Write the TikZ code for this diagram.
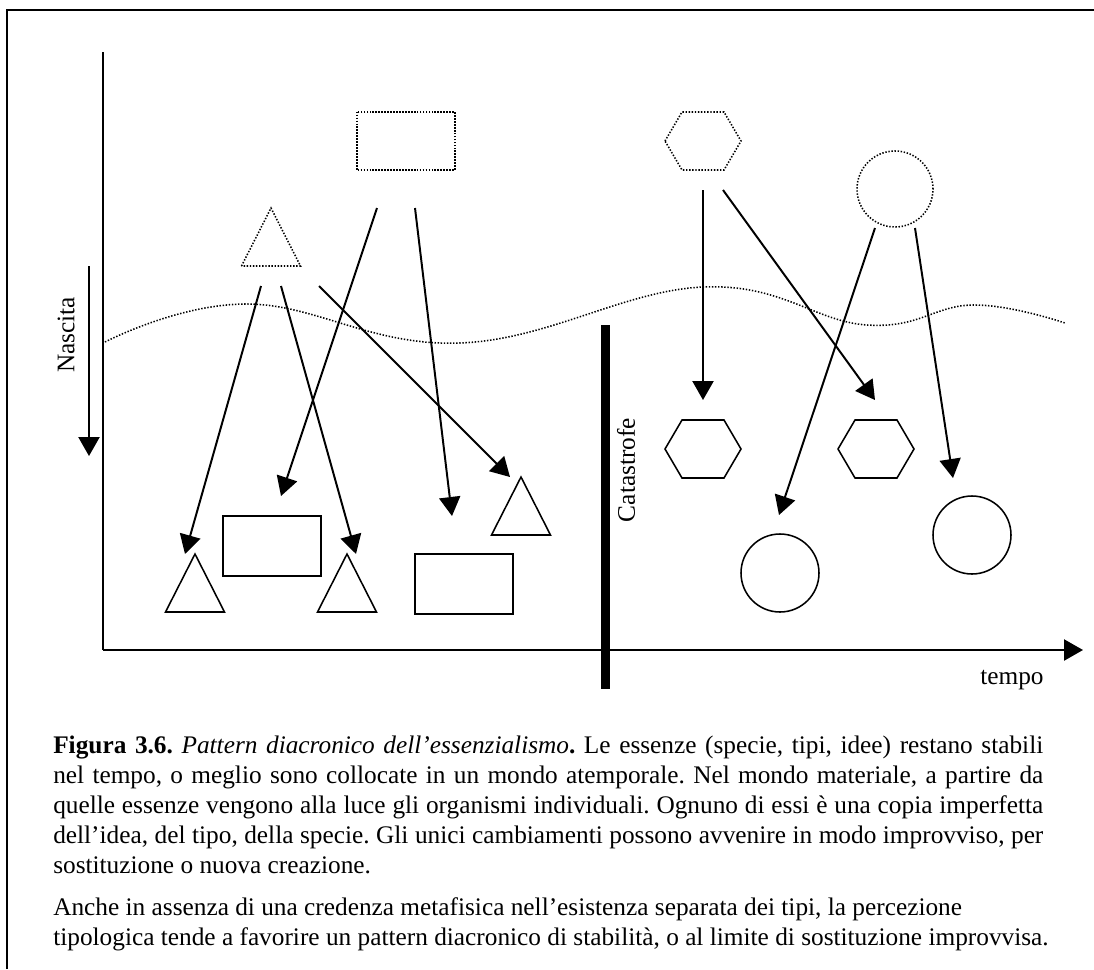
\documentclass[tikz,border=0pt]{standalone}
\usepackage{fontspec}
\setmainfont{Liberation Serif}
\usetikzlibrary{arrows.meta}

\tikzset{
    linea/.style={line width=1.4pt},
    freccia/.style={line width=1.4pt, -{Triangle[length=13.5pt,width=15pt]}},
    forma/.style={draw, line width=1.1pt, inner sep=0pt},
    puntini/.style={line width=1.1pt, dash pattern=on 1pt off 1.2pt},
    etichetta/.style={font=\fontsize{18}{20}\selectfont, inner sep=0pt},
    didascalia/.style={font=\fontsize{18}{21.2}\selectfont\frenchspacing, inner sep=0pt, anchor=north west},
}

% triangolo e esagono: (x,y) = centro
\newcommand{\triangolo}[3][]{\draw[#1] (#2,#3) ++(-29.5,29) -- ++(29.5,-58) -- ++(29.5,58) -- cycle;}
\newcommand{\esagono}[3][]{\draw[#1] (#2,#3) ++(-38,0) -- ++(17,-29) -- ++(42,0) -- ++(17,29) -- ++(-17,29) -- ++(-42,0) -- cycle;}

\begin{document}
\begin{tikzpicture}[x=0.025cm, y=-0.025cm]
    \useasboundingbox (0,0) rectangle (1094,969);

    % cornice
    \draw[line width=2pt] (7,969) -- (7,10) -- (1094,10);

    % assi
    \coordinate (origine) at (103,650);
    \coordinate (cima) at (103,52);
    \coordinate (fine) at (1083,650);
    \draw[linea] (cima) -- (origine);
    \draw[freccia] (origine) -- (fine);
    \node[etichetta, anchor=base] (tempo) at (1012,684) {tempo};

    \coordinate (nasc1) at (89,266);
    \coordinate (nasc2) at (89,456);
    \draw[freccia] (nasc1) -- (nasc2);
    \node[etichetta, rotate=90] (nascita) at (66,335) {Nascita};

    % linea ondulata
    \draw[puntini] plot[smooth, tension=0.7] coordinates {(105,342) (247,304) (460,343) (703,287) (867,325) (973,305) (1065,323)};

    % catastrofe
    \coordinate (cat1) at (605,325);
    \coordinate (cat2) at (605,689);
    \draw[line width=6.4pt] (cat1) -- (cat2);
    \node[etichetta, rotate=90] (catastrofe) at (626,470) {Catastrofe};

    % essenze (puntinate)
    \node[inner sep=0pt, minimum width=97*0.025cm, minimum height=58*0.025cm] (rettS) at (406,141) {};
    \draw[line width=1.6pt, dash pattern=on 1.2pt off 0.9pt] (rettS.north west) rectangle (rettS.south east);
    \triangolo[puntini]{271}{237}
    \esagono[puntini]{703}{141}
    \node[forma, puntini, circle, minimum size=76*0.025cm] (cercS) at (895,189) {};

    % organismi
    \triangolo[forma]{195}{583}
    \triangolo[forma]{347}{583}
    \triangolo[forma]{521}{506}
    \node[forma, minimum width=98*0.025cm, minimum height=60*0.025cm] (rett1) at (272,546) {};
    \node[forma, minimum width=98*0.025cm, minimum height=60*0.025cm] (rett2) at (464,584) {};
    \esagono[forma]{703}{449}
    \esagono[forma]{876}{449}
    \node[forma, circle, minimum size=78*0.025cm] (cerc1) at (780,573) {};
    \node[forma, circle, minimum size=78*0.025cm] (cerc2) at (972,535) {};

    % frecce
    \coordinate (t1) at (261,286); \coordinate (t2) at (281,286); \coordinate (t3) at (319,286);
    \coordinate (r1) at (377,208); \coordinate (r2) at (415,208);
    \coordinate (e1) at (703,190); \coordinate (e2) at (723,190);
    \coordinate (c1) at (875,228); \coordinate (c2) at (915,228);
    \coordinate (p1) at (185,554); \coordinate (p2) at (356,554); \coordinate (p3) at (510,477);
    \coordinate (p4) at (281,496); \coordinate (p5) at (452,516);
    \coordinate (p6) at (703,400); \coordinate (p7) at (875,400);
    \coordinate (p8) at (779,515); \coordinate (p9) at (953,478);
    \draw[freccia] (t1) -- (p1);
    \draw[freccia] (t2) -- (p2);
    \draw[freccia] (t3) -- (p3);
    \draw[freccia] (r1) -- (p4);
    \draw[freccia] (r2) -- (p5);
    \draw[freccia] (e1) -- (p6);
    \draw[freccia] (e2) -- (p7);
    \draw[freccia] (c1) -- (p8);
    \draw[freccia] (c2) -- (p9);

    % didascalia
    \node[didascalia, text width=990*0.025cm, align=justify] (didasc) at (53,736) {\textbf{Figura 3.6.} \textit{Pattern diacronico dell'essenzialismo}\textbf{.} Le essenze (specie, tipi, idee) restano stabili\linebreak nel tempo, o meglio sono collocate in un mondo atemporale. Nel mondo materiale, a partire da\linebreak quelle essenze vengono alla luce gli organismi individuali. Ognuno di essi è una copia imperfetta\linebreak dell'idea, del tipo, della specie. Gli unici cambiamenti possono avvenire in modo improvviso, per\linebreak sostituzione o nuova creazione.\par\vspace{9.2pt}
    \mbox{Anche in assenza di una credenza metafisica nell'esistenza separata dei tipi, la percezione}\newline\mbox{tipologica tende a favorire un pattern diacronico di stabilità, o al limite di sostituzione improvvisa.}};
\end{tikzpicture}
\end{document}
